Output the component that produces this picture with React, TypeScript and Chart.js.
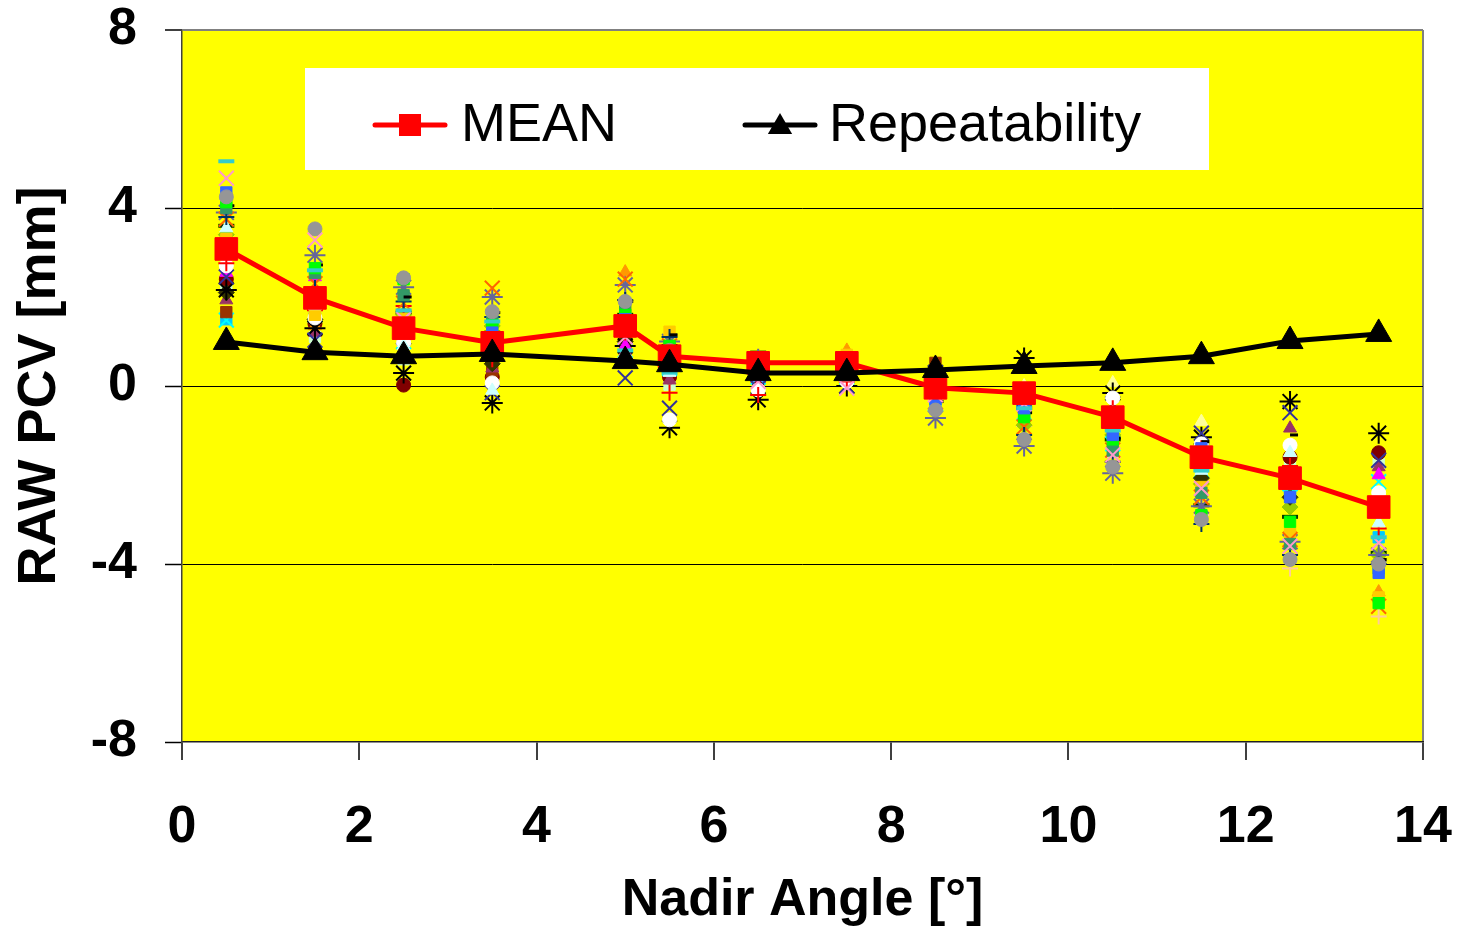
import { useEffect, useRef } from "react";
import { Chart, registerables } from "chart.js";

Chart.register(...registerables);

// Nadir angles (deg) at which the phase center variations were evaluated
const nadirAngles = [0.5, 1.5, 2.5, 3.5, 5, 5.5, 6.5, 7.5, 8.5, 9.5, 10.5, 11.5, 12.5, 13.5];

// Summary curves (mm)
const meanPcv = [3.08, 1.98, 1.3, 0.97, 1.35, 0.67, 0.52, 0.52, -0.04, -0.16, -0.7, -1.6, -2.07, -2.72];
const repeatability = [0.99, 0.76, 0.67, 0.72, 0.56, 0.49, 0.29, 0.29, 0.36, 0.45, 0.52, 0.67, 1.01, 1.17];

// Individual solutions (mm)
const run01 = [5.05, 2.6, 1.7, 1.45, 0.8, 0.3, 0.2, 0.3, -0.1, -0.5, -1.0, -1.9, -2.3, -3.4];
const run02 = [4.67, 3.28, 1.5, 0.9, 1.1, 0.5, 0.1, -0.05, -0.2, -0.4, -1.55, -2.3, -3.6, -3.52];
const run03 = [4.25, 3.53, 2.43, 1.67, 1.9, 0.8, 0.4, 0.5, -0.54, -1.2, -1.82, -3.0, -3.9, -4.0];
const run04 = [4.35, 2.0, 1.4, 1.2, 1.5, 0.7, 0.6, 0.4, -0.3, -0.5, -1.1, -1.4, -2.5, -4.2];
const run05 = [4.13, 2.65, 2.4, 1.37, 1.6, 0.9, 0.5, 0.6, -0.1, -0.7, -1.2, -2.9, -3.05, -4.88];
const run06 = [4.05, 2.72, 2.0, 1.65, 1.9, 1.15, 0.7, 0.5, -0.35, -0.6, -1.17, -1.25, -1.1, -3.9];
const run07 = [4.0, 2.54, 2.04, 1.5, 1.75, 0.9, 0.4, 0.5, -0.2, -0.65, -1.45, -2.4, -3.55, -4.1];
const run08 = [3.8, 2.2, 1.9, 1.55, 1.93, 1.1, 0.6, 0.4, -0.1, -1.1, -1.7, -3.1, -3.8, -4.0];
const run09 = [3.75, 2.3, 1.86, 2.2, 2.4, 0.9, 0.5, 0.6, -0.36, -0.92, -1.44, -2.5, -3.45, -4.95];
const run10 = [3.55, 1.8, 0.9, -0.1, 0.7, 0.3, 0.3, 0.2, 0.0, -0.3, -0.6, -1.9, -1.5, -3.08];
const run11 = [3.3, 1.6, 1.5, 1.0, 1.7, 1.22, 0.5, 0.7, 0.0, -0.4, -0.99, -2.27, -3.3, -4.75];
const run12 = [2.76, 1.7, 1.8, 0.6, 1.2, -0.15, -0.2, 0.1, -0.1, -0.3, -0.5, -1.4, -1.8, -3.2];
const run13 = [2.7, 1.53, 0.97, 0.07, 0.6, -0.76, -0.09, 0.1, 0.2, -0.2, -0.27, -1.3, -1.33, -2.4];
const run14 = [2.45, 1.03, 0.8, -0.15, 0.18, -0.5, -0.05, 0.0, 0.3, -0.3, -0.4, -1.06, -0.6, -1.67];
const run15 = [2.55, 2.45, 1.1, 0.7, 0.9, 0.4, 0.2, 0.3, 0.1, -0.5, -0.9, -1.7, -2.0, -2.0];
const run16 = [2.16, 1.3, 0.29, -0.38, 0.9, -0.94, -0.31, 0.0, 0.3, 0.63, -0.16, -1.15, -0.35, -1.06];
const run17 = [2.1, 1.5, 1.2, 0.5, 1.0, 0.6, 0.4, 0.4, 0.0, -0.3, -0.9, -2.07, -2.5, -2.8];
const run18 = [1.93, 1.2, 1.0, 0.4, 0.8, 0.13, 0.3, 0.2, 0.1, -0.5, -0.8, -1.2, -0.95, -1.82];
const run19 = [1.66, 1.5, 1.3, 0.32, 0.97, 0.6, 0.3, 0.3, 0.52, -0.2, -0.6, -1.5, -2.0, -2.6];
const run20 = [1.48, 1.6, 1.0, 0.8, 0.8, 0.4, 0.2, 0.2, -0.4, -0.6, -1.3, -1.9, -2.2, -2.15];
const run21 = [3.0, 1.35, 1.4, 1.1, 2.56, 0.9, 0.6, 0.8, -0.1, -0.7, -1.3, -2.4, -3.2, -4.63];
const run22 = [2.9, 1.8, 1.2, 0.9, 1.4, 0.7, 0.4, 0.5, 0.2, 0.0, 0.07, -0.8, -1.5, -2.5];
const run23 = [3.9, 2.94, 2.22, 2.0, 2.27, 1.0, 0.6, 0.5, -0.72, -1.35, -1.96, -2.7, -3.5, -3.8];
const run24 = [3.4, 2.1, 1.6, 1.35, 1.4, 0.8, 0.5, 0.6, -0.2, -0.88, -1.1, -2.2, -2.72, -3.8];
const run25 = [3.6, 1.8, 1.65, 1.2, 1.6, 0.9, 0.75, 0.6, -0.1, -0.5, -1.2, -2.68, -2.94, -3.75];
const run26 = [3.2, 1.9, 1.3, 1.0, 1.5, 0.7, 0.3, 0.4, -0.3, -0.9, -1.6, -2.9, -4.1, -5.18];
const run27 = [2.4, 1.4, 0.02, 0.2, 1.0, 0.2, 0.1, 0.2, 0.0, -0.4, -0.8, -1.6, -1.6, -1.5];
const run28 = [2.3, 1.1, 0.6, 0.25, 0.6, 0.03, 0.1, 0.2, 0.1, -0.3, -0.7, -1.5, -1.67, -1.75];
const run29 = [1.5, 1.7, 1.1, 1.45, 0.8, 0.4, 0.3, 0.3, -0.4, -0.6, -1.1, -1.9, -2.4, -3.4];

const runs = [
  run01, run02, run03, run04, run05, run06, run07, run08, run09, run10,
  run11, run12, run13, run14, run15, run16, run17, run18, run19, run20,
  run21, run22, run23, run24, run25, run26, run27, run28, run29,
];

// Marker colour and shape for each individual solution
const runColors = [
  "#33CCCC", "#FF99CC", "#969696", "#3366FF", "#00FF00", "#000000", "#339966", "#003366", "#FF6600", "#CCFFFF",
  "#FFCC00", "#FF0000", "#FFFFFF", "#333399", "#FF00FF", "#000000", "#333300", "#993366", "#993300", "#00FFFF",
  "#FF9900", "#FFFF99", "#666699", "#99CC00", "#003300", "#FFCC99", "#800000", "#CCFFCC", "#00CCFF",
];
const runMarkers = [
  "line", "crossRot", "circle", "rect", "rect", "dash", "rect", "cross", "crossRot", "triangle",
  "rect", "cross", "circle", "crossRot", "triangle", "star", "rectRot", "triangle", "rect", "crossRot",
  "triangle", "triangle", "star", "rectRot", "line", "cross", "circle", "rect", "rect",
];

// Axis ticks and labels
const xTicks = [0, 2, 4, 6, 8, 10, 12, 14];
const yTicks = [-8, -4, 0, 4, 8];
const xTitle = "Nadir Angle [°]";
const yTitle = "RAW PCV [mm]";
const meanLabel = "MEAN";
const repLabel = "Repeatability";

const FONT = "'Liberation Sans', Arial, Helvetica, sans-serif";

const toPoints = (values: number[]) => values.map((v, i) => ({ x: nadirAngles[i], y: v }));

function markerSize(style: string) {
  switch (style) {
    case "circle":
      return { r: 7, w: 1 };
    case "dash":
      return { r: 8, w: 3 };
    case "line":
      return { r: 8, w: 4 };
    case "cross":
      return { r: 8, w: 2 };
    case "crossRot":
    case "star":
      return { r: 10.5, w: 2 };
    case "triangle":
      return { r: 7.5, w: 1 };
    default:
      return { r: 8, w: 1 };
  }
}

// Yellow plot background
const plotBackground = {
  id: "plotBackground",
  beforeDraw(chart: any) {
    const { ctx, chartArea: a } = chart;
    ctx.save();
    ctx.fillStyle = "#FFFF00";
    ctx.fillRect(a.left, a.top, a.right - a.left, a.bottom - a.top);
    ctx.restore();
  },
};

// Legend box drawn inside the plot area with line + marker samples
const insetLegend = {
  id: "insetLegend",
  afterDraw(chart: any) {
    const { ctx, chartArea: a } = chart;
    const bx = a.left + 123;
    const by = a.top + 38;
    const bw = 904;
    const bh = 102;
    const cy = by + 57;
    ctx.save();
    ctx.fillStyle = "#FFFFFF";
    ctx.fillRect(bx, by, bw, bh);

    const entries = [
      { ds: chart.data.datasets[1], x0: bx + 70, x1: bx + 140, tx: bx + 156 },
      { ds: chart.data.datasets[0], x0: bx + 440, x1: bx + 510, tx: bx + 524 },
    ];
    for (const e of entries) {
      const color = e.ds.borderColor;
      ctx.strokeStyle = color;
      ctx.lineWidth = 5;
      ctx.lineCap = "round";
      ctx.beginPath();
      ctx.moveTo(e.x0, cy);
      ctx.lineTo(e.x1, cy);
      ctx.stroke();
      const mx = (e.x0 + e.x1) / 2;
      ctx.fillStyle = e.ds.pointBackgroundColor;
      ctx.beginPath();
      if (e.ds.pointStyle === "rect") {
        const s = 11;
        ctx.rect(mx - s, cy - s, 2 * s, 2 * s);
      } else {
        const r = 14;
        for (let k = 0; k < 3; k++) {
          const ang = -Math.PI / 2 + (k * 2 * Math.PI) / 3;
          const px = mx + Math.cos(ang) * r;
          const py = cy + 2 + Math.sin(ang) * r;
          if (k === 0) ctx.moveTo(px, py);
          else ctx.lineTo(px, py);
        }
        ctx.closePath();
      }
      ctx.fill();
      ctx.fillStyle = "#000000";
      ctx.font = `54px ${FONT}`;
      ctx.textBaseline = "middle";
      ctx.textAlign = "left";
      ctx.fillText(e.ds.label, e.tx, cy + 1);
    }
    ctx.restore();
  },
};

export default function App() {
  const canvasRef = useRef<HTMLCanvasElement>(null);

  useEffect(() => {
    const canvas = canvasRef.current;
    if (!canvas) return;

    const runDatasets = runs.map((values, i) => {
      const style = runMarkers[i];
      const { r, w } = markerSize(style);
      return {
        label: `Run ${i + 1}`,
        data: toPoints(values),
        showLine: false,
        pointStyle: style,
        pointRadius: r,
        pointBorderWidth: w,
        pointBackgroundColor: runColors[i],
        pointBorderColor: runColors[i],
        borderColor: runColors[i],
        backgroundColor: runColors[i],
      };
    });

    const chart = new Chart(canvas, {
      type: "scatter",
      data: {
        datasets: [
          {
            label: repLabel,
            data: toPoints(repeatability),
            showLine: true,
            borderColor: "#000000",
            borderWidth: 5,
            pointStyle: "triangle",
            pointRadius: 15,
            pointBorderWidth: 1,
            pointBackgroundColor: "#000000",
            pointBorderColor: "#000000",
          },
          {
            label: meanLabel,
            data: toPoints(meanPcv),
            showLine: true,
            borderColor: "#FF0000",
            borderWidth: 5,
            pointStyle: "rect",
            pointRadius: 16,
            pointBorderWidth: 1,
            pointBackgroundColor: "#FF0000",
            pointBorderColor: "#FF0000",
          },
          ...runDatasets,
        ] as any,
      },
      options: {
        animation: false,
        responsive: false,
        devicePixelRatio: 1,
        layout: { padding: { left: 0, right: 34, top: 30, bottom: 0 } },
        plugins: {
          legend: { display: false },
          tooltip: { enabled: false },
        },
        scales: {
          x: {
            type: "linear",
            min: 0,
            max: 14,
            afterBuildTicks: (s: any) => {
              s.ticks = xTicks.map((v) => ({ value: v }));
            },
            afterFit: (s: any) => {
              s.height = 190;
              s.paddingLeft = 0;
              s.paddingRight = 0;
            },
            ticks: {
              autoSkip: false,
              maxRotation: 0,
              color: "#000000",
              padding: 36,
              font: { family: FONT, size: 52, weight: "bold", lineHeight: 1.2 },
            },
            grid: {
              color: (c: any) => (c.tick && c.tick.value === 14 ? "#808080" : "rgba(0,0,0,0)"),
              lineWidth: 2,
              tickLength: 18,
              tickColor: "#000000",
              tickWidth: 1.5,
            },
            border: { color: "#202020", width: 1.5 },
            title: {
              display: true,
              text: xTitle,
              color: "#000000",
              padding: { top: 0, bottom: 0 },
              font: { family: FONT, size: 52, weight: "bold", lineHeight: 1.2 },
            },
          },
          y: {
            type: "linear",
            min: -8,
            max: 8,
            afterBuildTicks: (s: any) => {
              s.ticks = yTicks.map((v) => ({ value: v }));
            },
            afterFit: (s: any) => {
              s.width = 182;
              s.paddingTop = 0;
              s.paddingBottom = 0;
            },
            ticks: {
              color: "#000000",
              padding: 28,
              font: { family: FONT, size: 52, weight: "bold", lineHeight: 1.2 },
            },
            grid: {
              color: (c: any) => {
                const v = c.tick ? c.tick.value : 0;
                if (v === 8) return "#808080";
                if (v === -8) return "rgba(0,0,0,0)";
                return "#000000";
              },
              lineWidth: (c: any) => (c.tick && c.tick.value === 8 ? 2 : 1),
              tickLength: 17,
              tickColor: "#000000",
              tickWidth: 1.5,
            },
            border: { color: "#404040", width: 1.5 },
            title: {
              display: true,
              text: yTitle,
              color: "#000000",
              padding: { top: 8, bottom: 0 },
              font: { family: FONT, size: 54, weight: "bold", lineHeight: 1.2 },
            },
          },
        },
      },
      plugins: [plotBackground, insetLegend],
    });

    return () => chart.destroy();
  }, []);

  return (
    <div style={{ position: "fixed", left: 0, top: 0, width: 1457, height: 932, background: "#FFFFFF" }}>
      <canvas ref={canvasRef} width={1457} height={932} style={{ display: "block", width: 1457, height: 932 }} />
    </div>
  );
}
